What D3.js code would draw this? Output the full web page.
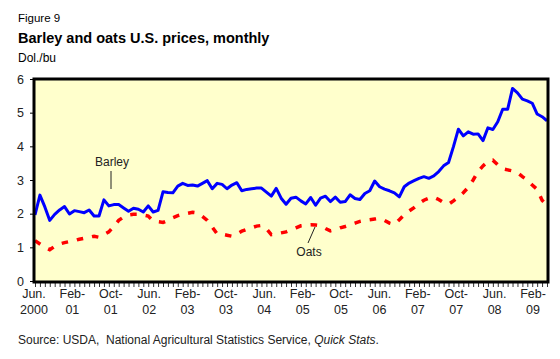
<!DOCTYPE html>
<html><head><meta charset="utf-8">
<script src="https://cdn.jsdelivr.net/npm/d3@7"></script>
<style>
body{margin:0;background:#fff;}
svg{display:block;font-family:Arial,"Liberation Sans",sans-serif;}
</style></head>
<body><svg id="c" width="560" height="359"></svg>
<script>
// Monthly, Jun 2000 .. Feb 2009
const barley = [1.96,2.55,2.2,1.80,1.98,2.11,2.21,1.99,2.09,2.06,2.03,2.11,1.93,1.93,2.41,2.23,2.27,2.27,2.17,2.07,
2.16,2.13,2.05,2.23,2.05,2.10,2.65,2.63,2.62,2.82,2.90,2.84,2.85,2.82,2.90,2.98,2.74,2.90,2.87,2.74,
2.85,2.92,2.68,2.72,2.74,2.76,2.76,2.64,2.52,2.75,2.46,2.28,2.46,2.49,2.38,2.29,2.48,2.25,2.46,2.52,
2.36,2.49,2.34,2.36,2.56,2.45,2.42,2.60,2.68,2.97,2.80,2.73,2.68,2.62,2.50,2.80,2.91,2.98,3.05,3.10,
3.05,3.12,3.25,3.42,3.52,3.99,4.51,4.31,4.43,4.36,4.37,4.17,4.55,4.50,4.73,5.10,5.10,5.72,5.59,5.40,
5.35,5.28,4.96,4.88,4.76];
const oats = [1.20,1.10,1.00,0.93,1.03,1.10,1.14,1.17,1.20,1.24,1.27,1.30,1.33,1.30,1.38,1.46,1.62,1.80,1.90,1.96,
1.98,1.98,1.96,1.93,1.78,1.76,1.74,1.80,1.88,1.94,1.98,2.01,2.04,2.02,1.92,1.80,1.60,1.40,1.39,1.36,
1.33,1.40,1.48,1.53,1.58,1.63,1.65,1.55,1.38,1.40,1.43,1.46,1.52,1.58,1.64,1.66,1.67,1.66,1.64,1.56,
1.49,1.52,1.58,1.62,1.67,1.72,1.77,1.80,1.82,1.84,1.86,1.80,1.72,1.68,1.82,1.97,2.08,2.18,2.30,2.40,
2.46,2.49,2.42,2.33,2.28,2.38,2.49,2.62,2.78,3.00,3.25,3.42,3.55,3.59,3.45,3.33,3.30,3.27,3.22,3.10,
3.00,2.85,2.72,2.40,2.25];
const xLabels1 = ["Jun.","Feb-","Oct-","Jun.","Feb-","Oct-","Jun.","Feb-","Oct-","Jun.","Feb-","Oct-","Jun.","Feb-"];
const xLabels2 = ["2000","01","01","02","03","03","04","05","05","06","07","07","08","09"];
const yTicks = [0,1,2,3,4,5,6];

const svg = d3.select("#c");
const L=35, R=547, T=79, B=281;
const x = d3.scaleLinear().domain([0, barley.length-1]).range([L, R]);
const y = d3.scaleLinear().domain([0, 6]).range([B, T]);
const xl = d3.scalePoint().domain(d3.range(xLabels1.length)).range([34, 533]);

// titles
svg.append("text").attr("x",18).attr("y",22).attr("font-size",11.5).text("Figure 9");
svg.append("text").attr("x",18).attr("y",43).attr("font-size",14.5).attr("font-weight","bold").text("Barley and oats U.S. prices, monthly");
svg.append("text").attr("x",18).attr("y",62).attr("font-size",12).text("Dol./bu");

// plot background
svg.append("rect").attr("x",L).attr("y",T).attr("width",R-L).attr("height",B-T).attr("fill","#ffffcc");

// y axis ticks/labels
const ya = svg.append("g").attr("transform",`translate(${L-1},0)`)
  .call(d3.axisLeft(y).tickValues(yTicks).tickSize(4).tickPadding(6).tickFormat(d3.format("d")));
ya.select(".domain").remove();
ya.selectAll("line").attr("stroke","#000");
ya.selectAll("text").attr("font-size",12.5).attr("fill","#222").attr("font-family","Arial,'Liberation Sans',sans-serif");

// monthly minor ticks
const xa = svg.append("g").attr("transform",`translate(0,${B+2})`)
  .call(d3.axisBottom(x).tickValues(d3.range(barley.length)).tickSize(4).tickFormat(""));
xa.select(".domain").remove();
xa.selectAll("line").attr("stroke","#000").attr("stroke-width",0.8);

// x labels
const lab = svg.append("g").attr("font-size",12.5).attr("fill","#222").attr("text-anchor","middle");
xLabels1.forEach((t,i)=>{
  const tx = lab.append("text").attr("x",xl(i)).attr("y",298);
  tx.append("tspan").attr("x",xl(i)).text(t);
  tx.append("tspan").attr("x",xl(i)).attr("dy",15.5).text(xLabels2[i]);
});

// lines
const line = d3.line().x((d,i)=>x(i)).y(d=>y(d));
svg.append("path").datum(oats).attr("d",line).attr("fill","none")
  .attr("stroke","#ff0000").attr("stroke-width",3.5).attr("stroke-dasharray","6.5,9");
svg.append("path").datum(barley).attr("d",line).attr("fill","none")
  .attr("stroke","#0000ff").attr("stroke-width",3).attr("stroke-linejoin","round");

// plot border
svg.append("rect").attr("x",L-1).attr("y",T).attr("width",R-L+2).attr("height",B-T+1)
  .attr("fill","none").attr("stroke","#000").attr("stroke-width",3);

// annotations
svg.append("text").attr("x",112).attr("y",166).attr("font-size",12).attr("text-anchor","middle").attr("fill","#222").text("Barley");
svg.append("line").attr("x1",111).attr("y1",171).attr("x2",111).attr("y2",189).attr("stroke","#222");
svg.append("text").attr("x",309).attr("y",256).attr("font-size",12).attr("text-anchor","middle").attr("fill","#222").text("Oats");
svg.append("line").attr("x1",315).attr("y1",227).attr("x2",308).attr("y2",243).attr("stroke","#222");

// source
const src = svg.append("text").attr("x",18).attr("y",344).attr("font-size",12).attr("fill","#222").style("white-space","pre");
src.append("tspan").text("Source: USDA,  National Agricultural Statistics Service, ");
src.append("tspan").attr("font-style","italic").text("Quick Stats");
src.append("tspan").text(".");
</script></body></html>
